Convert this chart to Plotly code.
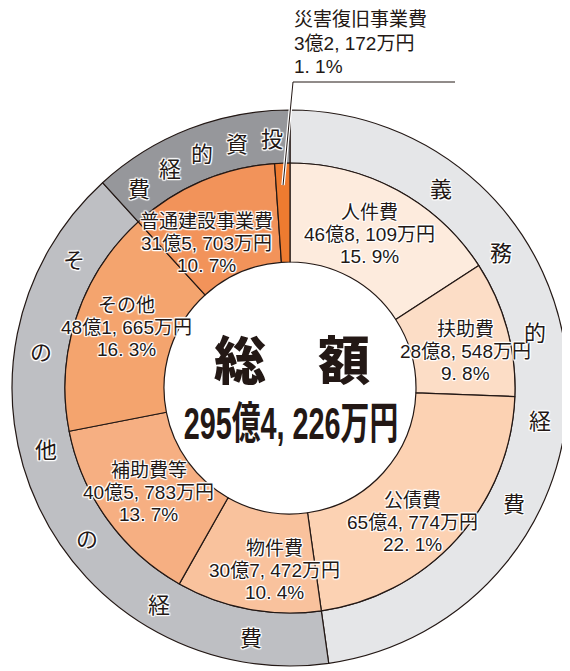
import math
import plotly.graph_objects as go

# ---------------- data ----------------
items = ["人件費", "扶助費", "公債費", "物件費", "補助費等", "その他", "普通建設事業費", "災害復旧事業費"]
values_man = [468109, 288548, 654774, 307472, 405783, 481665, 315703, 32172]  # 万円
pct_labels = [15.9, 9.8, 22.1, 10.4, 13.7, 16.3, 10.7, 1.1]
item_groups = ["義務的経費", "義務的経費", "義務的経費",
               "その他の経費", "その他の経費", "その他の経費",
               "投資的経費", "投資的経費"]
groups = ["義務的経費", "その他の経費", "投資的経費"]
center_title = "総　額"

# ---------------- styles ----------------
item_colors = ["#FDEBDD", "#FCDDC6", "#FCD2B3", "#F9C29D", "#F6AF82",
               "#F4A46E", "#F2935A", "#EE7B30"]
group_colors = ["#E5E6E8", "#BEBFC3", "#96979B"]
INK = "#231815"
FONT = "Liberation Sans, Noto Sans CJK JP"
CJK = "Noto Sans CJK JP"
HALO = ("1px 1px 1px #fff, -1px -1px 1px #fff, 1px -1px 1px #fff, -1px 1px 1px #fff, "
        "0 1px 1px #fff, 0 -1px 1px #fff, 1px 0 1px #fff, -1px 0 1px #fff")

W, H = 570, 671
OFF = 8                      # page body margin of the html page
CX, CY = 290, 388            # centre in screen pixels
R_OUT, R_MID, R_IN = 278, 225, 126
LINE = 22                    # label line spacing


def fmt_yen(v):
    oku, man = divmod(v, 10000)
    s = f"{oku}億" if oku else ""
    return s + f"{man:,}".replace(",", ", ") + "万円"


def fmt_pct(p):
    return f"{p:.1f}".replace(".", ". ") + "%"


def px(x):
    return (x - OFF) / W


def py(y):
    return 1 - (y - OFF) / H


total = sum(values_man)
group_values = [sum(v for v, g in zip(values_man, item_groups) if g == grp) for grp in groups]

fig = go.Figure()

# outer ring: groups
fig.add_trace(go.Pie(
    labels=groups, values=group_values, sort=False, direction="clockwise", rotation=0,
    hole=R_MID / R_OUT, textinfo="none", hoverinfo="none",
    marker=dict(colors=group_colors, line=dict(color=INK, width=1.2)),
    domain=dict(x=[px(CX - R_OUT), px(CX + R_OUT)], y=[py(CY + R_OUT), py(CY - R_OUT)]),
    showlegend=False,
))

# inner ring: items
fig.add_trace(go.Pie(
    labels=items, values=values_man, sort=False, direction="clockwise", rotation=0,
    hole=R_IN / R_MID, textinfo="none", hoverinfo="none",
    marker=dict(colors=item_colors, line=dict(color=INK, width=1.2)),
    domain=dict(x=[px(CX - R_MID), px(CX + R_MID)], y=[py(CY + R_MID), py(CY - R_MID)]),
    showlegend=False,
))

annotations = []
shapes = []


def add_text(x, y, text, size=19, xanchor="center", family=FONT, **kw):
    annotations.append(dict(
        x=px(x), y=py(y), xref="paper", yref="paper", text=text, showarrow=False,
        xanchor=xanchor, yanchor="middle",
        font=dict(family=family, size=size, color=INK, shadow=HALO, **kw),
    ))


# item labels
nudge = {"人件費": (-4, 1), "扶助費": (6, 10), "公債費": (-8, 17), "物件費": (17, 10),
         "補助費等": (1, 2), "その他": (3, -6), "普通建設事業費": (-14, 17)}
cum = 0
r_lab = (R_IN + R_MID) / 2
for name, v, p in zip(items, values_man, pct_labels):
    mid = (cum + v / 2) / total
    cum += v
    th = 2 * math.pi * mid
    x = CX + r_lab * math.sin(th)
    y = CY - r_lab * math.cos(th)
    lines = [name, fmt_yen(v), fmt_pct(p)]
    if name in nudge:
        dx, dy = nudge[name]
        for k, s in enumerate(lines):
            add_text(x + dx, y + dy + (k - 1) * LINE, s)
    else:
        # small slice: leader line to an outside label
        r0 = R_MID - 22
        x0 = CX + r0 * math.sin(th)
        y0 = CY - r0 * math.cos(th)
        xk, yk = CX + 3, 82
        for col, wd in (("white", 3.5), (INK, 1)):
            shapes.append(dict(type="line", xref="paper", yref="paper",
                               x0=px(x0), y0=py(y0), x1=px(xk), y1=py(yk),
                               line=dict(color=col, width=wd)))
            shapes.append(dict(type="line", xref="paper", yref="paper",
                               x0=px(xk), y0=py(yk), x1=px(455), y1=py(yk),
                               line=dict(color=col, width=wd)))
        for k, s in enumerate(lines):
            add_text(xk - 1, 20 + k * 23, s, xanchor="left")

# group characters along the outer ring
char_angles = {
    "義務的経費": (37, 20),      # start angle, step (clockwise, degrees)
    "その他の経費": (301, -22.4),
    "投資的経費": (356, -8.2),
}
r_ring = (R_MID + R_OUT) / 2
for grp in groups:
    a0, step = char_angles[grp]
    for k, ch in enumerate(grp):
        a = math.radians(a0 + step * k)
        add_text(CX + r_ring * math.sin(a), CY - r_ring * math.cos(a), ch, size=22, family=CJK)

# center texts
annotations.append(dict(
    x=px(292), y=py(362), xref="paper", yref="paper", text=center_title, showarrow=False,
    xanchor="center", yanchor="middle",
    font=dict(family=FONT, size=52, color=INK, weight=900),
))
annotations.append(dict(
    x=px(291), y=py(423), xref="paper", yref="paper", text=fmt_yen(total), showarrow=False,
    xanchor="center", yanchor="middle",
    font=dict(family=FONT, size=40, color=INK, weight=700),
))
total_idx = len(annotations) - 1

fig.update_layout(
    width=W, height=H, margin=dict(l=0, r=0, t=0, b=0),
    paper_bgcolor="white", plot_bgcolor="white",
    annotations=annotations, shapes=shapes,
)

post = """
var gd = document.getElementById('{plot_id}');
var t = gd.querySelector('.annotation[data-index="IDX"] text');
if (t) { t.style.transformBox = 'fill-box'; t.style.transformOrigin = 'center';
         t.style.transform = 'scale(0.72, 1.12)'; }
""".replace("IDX", str(total_idx))

fig.write_html("out.html", post_script=post)
